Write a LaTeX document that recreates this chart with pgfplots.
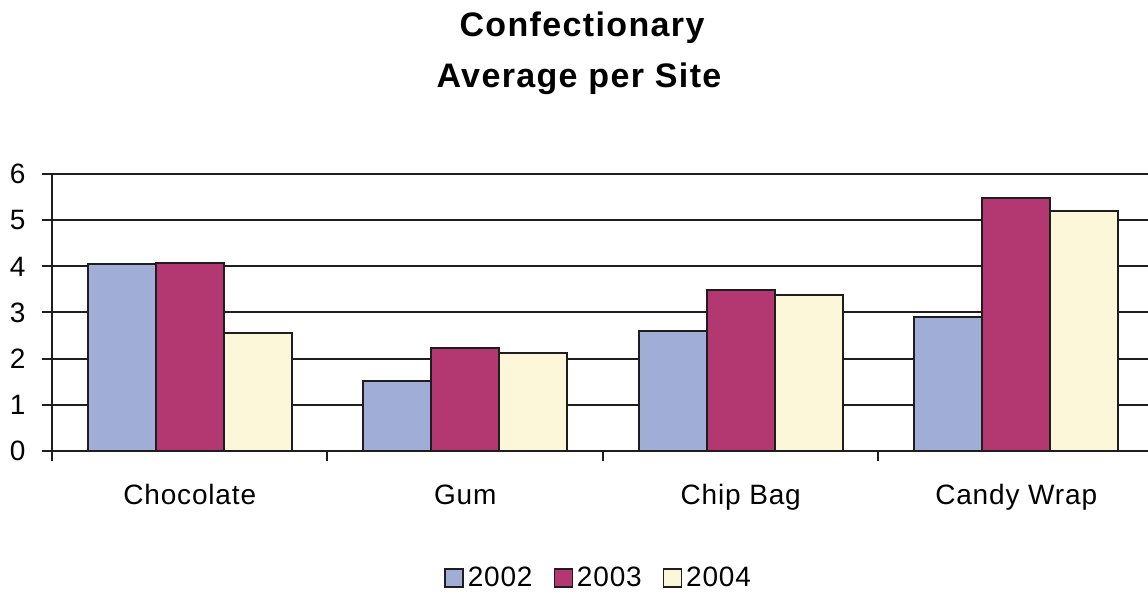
\documentclass[border=0pt]{standalone}
\usepackage{pgfplots}
\pgfplotsset{compat=1.18}
\usepackage{fontspec}
\setmainfont{Liberation Sans}[LetterSpace=3]

\definecolor{c2002}{HTML}{A0ADD6}
\definecolor{c2003}{HTML}{B33771}
\definecolor{c2004}{HTML}{FBF7D8}
\definecolor{edge}{HTML}{1E1E1E}

\newcommand{\labelfont}{\fontsize{28bp}{34bp}\selectfont}

\begin{document}
\begin{tikzpicture}[x=1bp,y=1bp]
\path[use as bounding box] (0,0) rectangle (1148,595);

% two-line title
\node[anchor=base, inner sep=0pt, font=\fontsize{34bp}{40bp}\selectfont\bfseries\addfontfeatures{LetterSpace=4}] at (582,558) {Confectionary};
\node[anchor=base, inner sep=0pt, font=\fontsize{34bp}{40bp}\selectfont\bfseries\addfontfeatures{LetterSpace=4}] at (579,507) {Average per Site};

\begin{axis}[
  at={(52bp,144.3bp)}, anchor=south west,
  scale only axis, width=1102bp, height=276.4bp,
  xmin=-0.5, xmax=3.5, ymin=0, ymax=6,
  axis x line*=bottom, axis y line*=left,
  axis line style={edge, line width=2bp},
  ytick={0,1,2,3,4,5,6},
  xtick={-0.5,0.5,1.5,2.5,3.5},
  x tick label as interval,
  xticklabels={Chocolate,Gum,Chip Bag,Candy Wrap},
  tick align=outside, major tick length=10bp,
  tick style={edge, line width=2bp},
  ymajorgrids, grid style={edge, line width=2bp},
  tick label style={font=\labelfont},
  yticklabel style={xshift=-13bp},
  xticklabel style={anchor=base, yshift=-44bp},
  /pgf/number format/assume math mode=true,
  ybar=0pt, bar width=68bp,
  legend columns=3,
  legend style={at={(0.497,-0.46)}, anchor=center, draw=none,
    font=\labelfont, inner sep=0pt,
    nodes={inner sep=4bp},
    /tikz/every even column/.append style={column sep=17bp}},
  legend image code/.code={\draw[#1, line width=1.4bp] (0bp,-9bp) rectangle (18bp,9bp);},
]
\addplot[fill=c2002, draw=edge, line width=2bp] coordinates {(0,4.05) (1,1.51) (2,2.59) (3,2.90)};
\addplot[fill=c2003, draw=edge, line width=2bp] coordinates {(0,4.08) (1,2.22) (2,3.49) (3,5.49)};
\addplot[fill=c2004, draw=edge, line width=2bp] coordinates {(0,2.55) (1,2.13) (2,3.37) (3,5.20)};
\legend{2002,2003,2004}
\end{axis}
\end{tikzpicture}
\end{document}
